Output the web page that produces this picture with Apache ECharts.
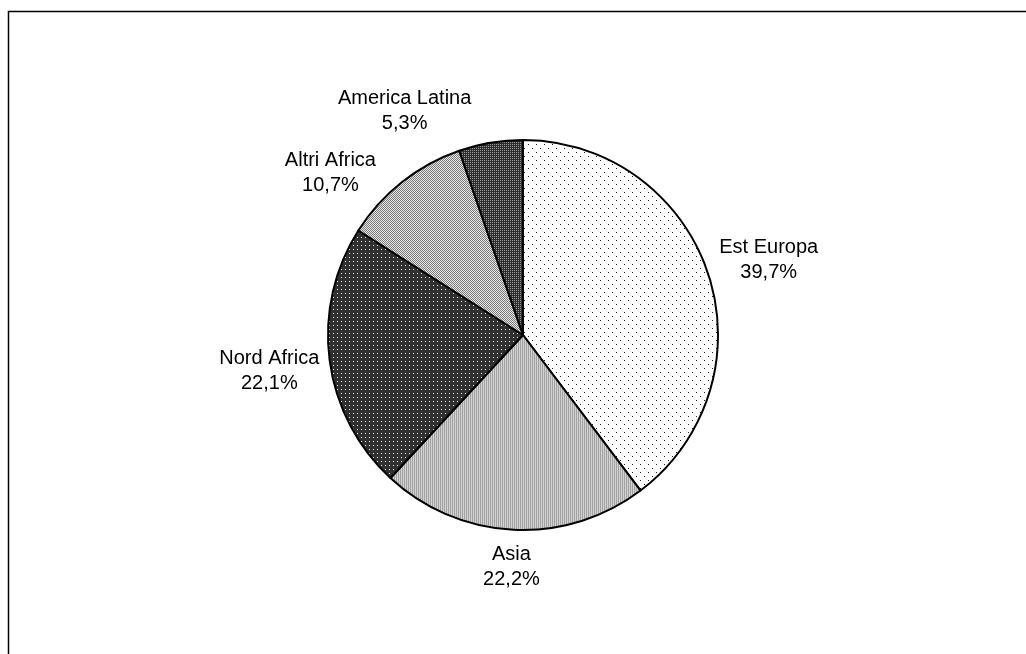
<!DOCTYPE html>
<html>
<head>
<meta charset="utf-8">
<title>Provenienza</title>
<script src="https://cdn.jsdelivr.net/npm/echarts@6/dist/echarts.min.js"></script>
<style>
  html, body { margin: 0; padding: 0; background: #fff; }
  #chart { width: 1026px; height: 654px; }
</style>
</head>
<body>
<div id="chart"></div>
<script>
// Area di provenienza (quote percentuali)
const categories = ['Est Europa', 'Asia', 'Nord Africa', 'Altri Africa', 'America Latina'];
const shares = [39.7, 22.2, 22.1, 10.7, 5.3];

// Pie geometry (pixels)
const CX = 523, CY = 335, R = 195, LABEL_GAP = 8, LABEL_DY = 3;
// small angular nudges so the narrow top slices keep their labels apart
const labelShiftDeg = [1, 0, 0, -11, -18];

// Build a small repeating bitmap tile for a hatched / dotted fill
function tile(w, h, bg, dot, pts) {
  const c = document.createElement('canvas');
  c.width = w; c.height = h;
  const g = c.getContext('2d');
  g.fillStyle = bg; g.fillRect(0, 0, w, h);
  g.fillStyle = dot;
  pts.forEach(p => g.fillRect(p[0], p[1], 1, 1));
  return { image: c, repeat: 'repeat' };
}

const fills = [
  tile(8, 8, '#ffffff', '#222222', [[0, 0], [4, 4]]),                 // sparse black dots
  tile(2, 2, '#d2d2d2', '#a2a2a2', [[0, 0], [0, 1]]),                 // fine light grey
  tile(4, 4, '#303030', '#f0f0f0', [[1, 1]]),                          // dark with white dots
  tile(2, 2, '#e6e6e6', '#7c7c7c', [[0, 0], [1, 1]]),                 // grey checker
  tile(2, 2, '#2e2e2e', '#9a9a9a', [[0, 0]])                           // dense dark dots
];

const total = shares.reduce((a, b) => a + b, 0);
const midAngles = [];
let acc = 0;
shares.forEach(v => { midAngles.push((acc + v / 2) / total * 360); acc += v; });

const chart = echarts.init(document.getElementById('chart'), null, { renderer: 'canvas' });

chart.setOption({
  animation: false,
  backgroundColor: '#ffffff',
  graphic: [{
    type: 'rect',
    shape: { x: 8.5, y: 11.5, width: 1100, height: 700 },
    style: { fill: 'none', stroke: '#000000', lineWidth: 1.5 },
    silent: true
  }],
  series: [{
    type: 'pie',
    center: [CX, CY],
    radius: R,
    startAngle: 90,
    clockwise: true,
    avoidLabelOverlap: false,
    emphasis: { disabled: true },
    itemStyle: { borderColor: '#000000', borderWidth: 2 },
    label: {
      show: true,
      position: 'outside',
      fontFamily: 'Liberation Sans, Arial, sans-serif',
      fontSize: 20,
      lineHeight: 25,
      color: '#000000',
      align: 'center',
      formatter: p => p.name + '\n' + p.value.toFixed(1).replace('.', ',') + '%'
    },
    labelLine: { show: false },
    labelLayout: function (params) {
      const i = params.dataIndex;
      const a = (midAngles[i] + labelShiftDeg[i]) * Math.PI / 180;
      const ux = Math.sin(a), uy = -Math.cos(a);
      const w = params.labelRect.width, h = params.labelRect.height;
      const ext = Math.abs(ux) * w / 2 + Math.abs(uy) * h / 2;
      const d = R + LABEL_GAP + ext;
      return { x: CX + ux * d, y: CY + uy * d + LABEL_DY, align: 'center', verticalAlign: 'middle' };
    },
    data: categories.map((name, i) => ({
      name: name,
      value: shares[i],
      itemStyle: { color: fills[i] }
    }))
  }]
});
</script>
</body>
</html>
